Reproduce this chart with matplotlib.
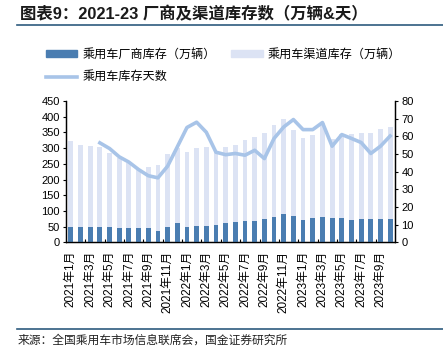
import matplotlib
matplotlib.use("Agg")
import matplotlib.pyplot as plt
from matplotlib.lines import Line2D
from matplotlib.patches import Patch
import numpy as np

plt.rcParams['font.family'] = ['Liberation Sans', 'Noto Sans CJK SC']

# months Jan 2021 .. Oct 2023
months = [f"{y}年{m}月" for y in (2021, 2022, 2023) for m in range(1, 13)][:34]

# 乘用车渠道库存（万辆）
channel = [322, 310, 306, 302, 283, 267, 253, 232, 240, 245, 280, 300,
           288, 299, 303, 288, 302, 309, 325, 336, 348, 372, 393, 357,
           332, 341, 380, 330, 344, 344, 348, 348, 360, 367]
# 乘用车厂商库存（万辆）
factory = [48, 48, 48, 48, 48, 44, 44, 44, 44, 37, 48, 60,
           48, 52, 52, 55, 63, 64, 68, 69, 74, 82, 90, 84,
           72, 78, 82, 78, 78, 72, 74, 74, 74, 74]
# 乘用车库存天数
days = [np.nan, np.nan, np.nan, 56.3, 53.1, 48.4, 45.4, 41.2, 37.7, 36.5, 43.1, 54.0,
        65.0, 68.0, 62.3, 51.0, 49.6, 50.3, 49.3, 52.1, 47.4, 58.8, 65.3, 69.5,
        63.8, 63.8, 67.8, 54.4, 61.0, 58.8, 56.5, 50.3, 54.4, 60.2]

dark_c = '#4a7db1'
light_c = '#dce3f4'
line_c = '#a8c4e8'

fig = plt.figure(figsize=(4.43, 3.55), dpi=100)
ax = fig.add_axes([66 / 443, 1 - 242.3 / 355, (395 - 66) / 443, (242.3 - 101) / 355])
ax2 = ax.twinx()

x = np.arange(len(months))
ax.bar(x, channel, width=0.5, color=light_c, zorder=2)
ax.bar(x, factory, width=0.5, color=dark_c, zorder=3)
ax2.plot(x, days, color=line_c, lw=2.6, solid_joinstyle='round', zorder=4)

ax.set_xlim(-0.5, len(months) - 0.5)
ax.set_ylim(0, 450)
ax.set_yticks(range(0, 451, 50))
ax2.set_ylim(0, 80)
ax2.set_yticks(range(0, 81, 10))

ax.set_xticks(x[::2])
ax.set_xticklabels(months[::2], rotation=90, fontsize=8.5)
ax.set_xticks(np.arange(1.5, len(months) - 1, 2), minor=True)
ax.tick_params(axis='x', which='major', length=0, pad=6)
ax.tick_params(axis='x', which='minor', length=2.5, direction='in', width=0.8)
ax.tick_params(axis='y', length=2.5, width=0.8, labelsize=8, pad=2)
ax2.tick_params(axis='y', length=2.5, width=0.8, labelsize=8, pad=2)

for a in (ax, ax2):
    a.spines['top'].set_visible(False)
    for s in ('left', 'right', 'bottom'):
        a.spines[s].set_linewidth(0.9)
ax.set_zorder(ax2.get_zorder() - 1)
ax2.patch.set_visible(False)
ax.patch.set_visible(False)

# legend
handles = [Patch(color=dark_c), Line2D([], [], color=line_c, lw=2.6), Patch(color=light_c)]
labels = ['乘用车厂商库存（万辆）', '乘用车库存天数', '乘用车渠道库存（万辆）']
fig.legend(handles, labels, ncol=2, loc='upper left', bbox_to_anchor=(40 / 443, 1 - 43 / 355),
           frameon=False, fontsize=8.7, borderpad=0, handlelength=2.6, handleheight=0.45,
           handletextpad=0.4, columnspacing=1.3, labelspacing=0.85)

# title, rules and source
fig.text(20 / 443, 1 - 14 / 355, '图表9：2021-23 厂商及渠道库存数（万辆&天）',
         fontsize=11.8, fontweight='bold', color='#1a1a1a', va='center', ha='left')
fig.add_artist(Line2D([17 / 443, 1], [1 - 25 / 355] * 2, color='#2e5b7e', lw=1.2))
fig.add_artist(Line2D([17 / 443, 1], [1 - 329 / 355] * 2, color='#2e5b7e', lw=1.2))
fig.text(18 / 443, 1 - 341 / 355, '来源：全国乘用车市场信息联席会，国金证券研究所',
         fontsize=8.5, color='#222222', va='center', ha='left')

fig.savefig('out.png', dpi=100)
